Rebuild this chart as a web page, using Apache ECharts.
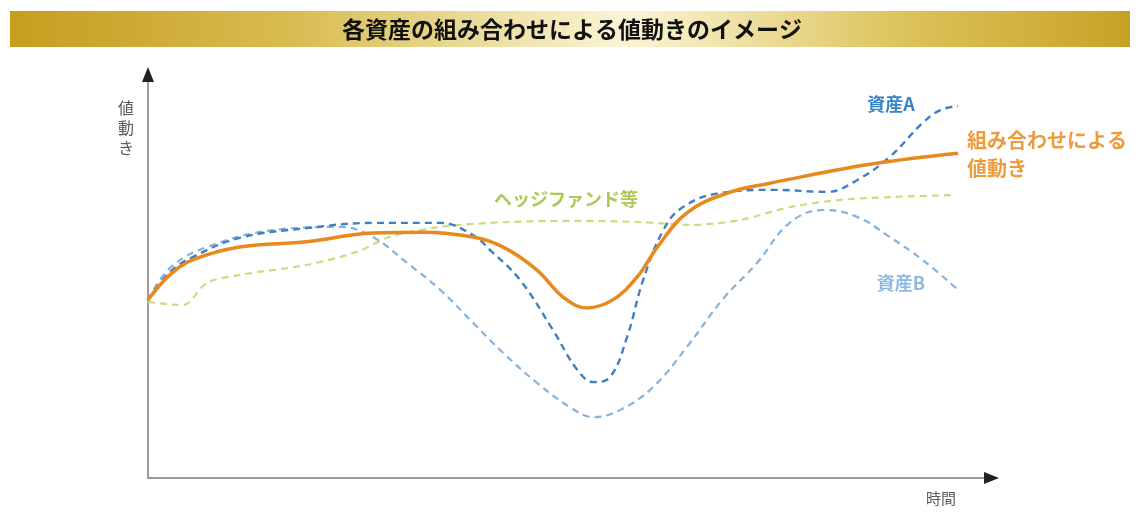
<!DOCTYPE html>
<html>
<head>
<meta charset="utf-8">
<script src="https://cdn.jsdelivr.net/npm/echarts@6/dist/echarts.min.js"></script>
<style>
html,body{margin:0;padding:0;background:#fff;}
#chart{width:1141px;height:513px;}
</style>
</head>
<body>
<div id="chart"></div>
<script>
// Time (0-100) and value (0-100) readings
const comboT = [0, 2.6, 5.3, 10.9, 18.9, 26.7, 32.7, 38.6, 42.2, 46.2, 49.3, 52.1, 55.2, 58.1, 60.5, 64.0, 68.8, 74.2, 78.3, 86.1, 96.2];
const comboV = [44.2, 50.4, 54.1, 57.3, 58.6, 60.8, 61.0, 59.8, 57.3, 51.6, 44.9, 42.2, 44.2, 49.9, 57.3, 65.8, 70.7, 73.3, 75.0, 78.0, 80.6];

const assetAT = [0, 2.6, 5.3, 10.9, 18.9, 26.7, 34.7, 38.6, 40.6, 44.2, 48.1, 51.0, 52.9, 54.9, 56.9, 58.8, 61.2, 63.5, 67.9, 74.2, 80.6, 84.2, 88.1, 92.0, 94.1, 96.2];
const assetAV = [44.2, 51.1, 54.8, 59.6, 62.0, 63.3, 63.3, 60.3, 56.6, 49.1, 36.7, 26.8, 23.8, 25.1, 35.0, 49.1, 61.5, 67.2, 70.7, 71.5, 71.0, 73.9, 79.7, 88.1, 91.3, 92.3];

const assetBT = [0, 2.6, 7.0, 14.8, 22.8, 26.7, 30.8, 34.7, 38.6, 42.2, 46.2, 50.1, 52.9, 56.1, 60.0, 64.0, 68.2, 72.3, 76.2, 80.2, 84.2, 88.1, 92.0, 96.2];
const assetBV = [44.2, 52.1, 57.3, 61.5, 62.3, 59.8, 53.3, 46.7, 38.5, 31.0, 23.6, 17.6, 15.1, 16.9, 22.6, 32.5, 44.2, 53.3, 63.3, 66.5, 64.8, 59.8, 54.1, 46.7];

const hedgeT = [0, 2.0, 4.2, 7.0, 10.9, 18.9, 24.8, 28.7, 34.7, 42.6, 51.3, 58.4, 64.4, 70.3, 76.2, 82.2, 88.1, 95.6];
const hedgeV = [43.7, 43.2, 42.9, 48.4, 50.4, 52.9, 56.1, 59.8, 62.3, 63.5, 63.8, 63.5, 62.8, 64.0, 67.2, 69.0, 69.7, 70.2];

const seriesNames = ['資産A', '資産B', 'ヘッジファンド等', '組み合わせによる値動き'];
const comboLabel = '組み合わせによる\n値動き';
const titleText = '各資産の組み合わせによる値動きのイメージ';
const yLabel = '値\n動\nき';
const xLabel = '時間';

function pairs(t, v) { return t.map((x, i) => [x, v[i]]); }

const chart = echarts.init(document.getElementById('chart'), null, {renderer: 'canvas'});
const jp = '"Noto Sans CJK JP", "Noto Sans", sans-serif';
const dash = [7, 5];

chart.setOption({
  animation: false,
  backgroundColor: '#ffffff',
  grid: {left: 148, right: 151, top: 75, bottom: 35, containLabel: false},
  xAxis: {
    type: 'value', min: 0, max: 100,
    axisLine: {show: true, lineStyle: {color: '#9a9a9a', width: 2}},
    axisTick: {show: false}, axisLabel: {show: false}, splitLine: {show: false}
  },
  yAxis: {
    type: 'value', min: 0, max: 100,
    axisLine: {show: true, lineStyle: {color: '#9a9a9a', width: 2}},
    axisTick: {show: false}, axisLabel: {show: false}, splitLine: {show: false}
  },
  series: [
    {name: seriesNames[2], type: 'line', data: pairs(hedgeT, hedgeV), smooth: 0.3, showSymbol: false,
     lineStyle: {color: '#cadd7e', width: 2.2, type: dash}, z: 2},
    {name: seriesNames[1], type: 'line', data: pairs(assetBT, assetBV), smooth: 0.4, showSymbol: false,
     lineStyle: {color: '#86b2dc', width: 2.2, type: dash}, z: 3},
    {name: seriesNames[0], type: 'line', data: pairs(assetAT, assetAV), smooth: 0.4, showSymbol: false,
     lineStyle: {color: '#3f7fc2', width: 2.4, type: dash}, z: 4},
    {name: seriesNames[3], type: 'line', data: pairs(comboT, comboV), smooth: 0.4, showSymbol: false,
     lineStyle: {color: '#e8891e', width: 3.5}, z: 5}
  ],
  graphic: [
    {type: 'rect', shape: {x: 10, y: 11, width: 1120, height: 36}, z: 0,
     style: {fill: new echarts.graphic.LinearGradient(0, 0, 1, 0, [
       {offset: 0, color: '#c69d1e'},
       {offset: 0.25, color: '#d8bb50'},
       {offset: 0.55, color: '#fbf5d6'},
       {offset: 0.8, color: '#dcc25a'},
       {offset: 1, color: '#c8a226'}
     ])}},
    {type: 'text', x: 572, y: 29, z: 10,
     style: {text: titleText, font: 'bold 23px ' + jp, fill: '#111111', align: 'center', verticalAlign: 'middle'}},
    {type: 'polygon', shape: {points: [[148, 67], [142, 82], [154, 82]]}, style: {fill: '#222222'}, z: 10},
    {type: 'polygon', shape: {points: [[999, 478], [984, 472], [984, 484]]}, style: {fill: '#222222'}, z: 10},
    {type: 'text', x: 126, y: 98, z: 10,
     style: {text: yLabel, font: '16px ' + jp, lineHeight: 20, fill: '#5a5a5a', align: 'center', verticalAlign: 'top'}},
    {type: 'text', x: 941, y: 498, z: 10,
     style: {text: xLabel, font: '15px ' + jp, fill: '#5a5a5a', align: 'center', verticalAlign: 'middle'}},
    {type: 'text', x: 891, y: 104, z: 10,
     style: {text: seriesNames[0], font: 'bold 18px ' + jp, fill: '#3384cc', align: 'center', verticalAlign: 'middle'}},
    {type: 'text', x: 901, y: 283, z: 10,
     style: {text: seriesNames[1], font: 'bold 18px ' + jp, fill: '#8db9e2', align: 'center', verticalAlign: 'middle'}},
    {type: 'text', x: 566, y: 199, z: 10,
     style: {text: seriesNames[2], font: 'bold 18px ' + jp, fill: '#abca55', align: 'center', verticalAlign: 'middle'}},
    {type: 'text', x: 967, y: 154, z: 10,
     style: {text: comboLabel, font: 'bold 20px ' + jp, lineHeight: 28, fill: '#ee9b3a', align: 'left', verticalAlign: 'middle'}}
  ]
});
</script>
</body>
</html>
